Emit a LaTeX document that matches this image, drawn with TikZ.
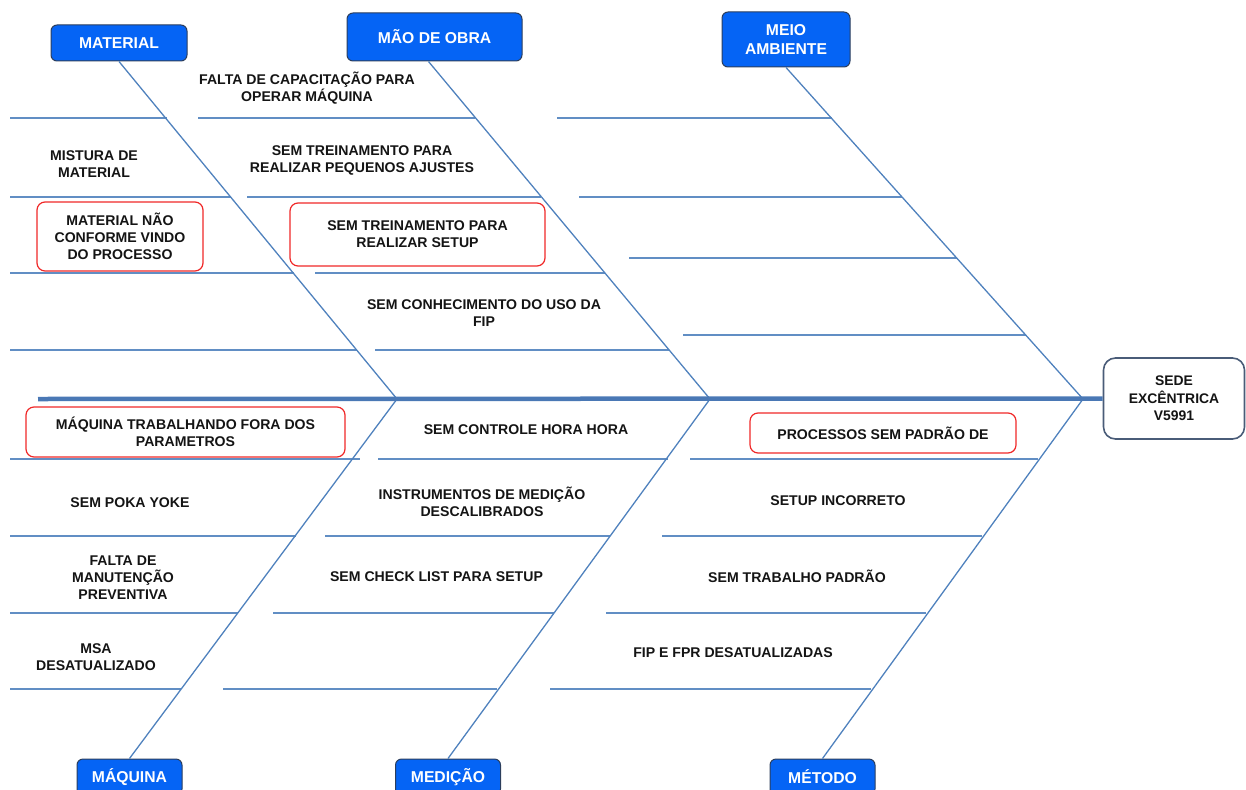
\documentclass[tikz,border=0pt]{standalone}
\usepackage{fontspec}
\setmainfont{Liberation Sans}
\usetikzlibrary{calc}
\definecolor{bone}{HTML}{4F81BD}
\definecolor{spinec}{HTML}{4A78B5}
\definecolor{titlefill}{HTML}{0564F5}
\definecolor{titleedge}{HTML}{2C3E5C}
\definecolor{headedge}{HTML}{4A5C78}
\definecolor{alert}{HTML}{F02828}
\definecolor{ink}{HTML}{141414}

\begin{document}
\begin{tikzpicture}[x=1pt,y=-1pt,
  title/.style={draw=titleedge, line width=1pt, fill=titlefill, rounded corners=6pt,
    text=white, font=\fontsize{15.7}{19}\selectfont\bfseries, align=center, inner sep=0pt},
  cause/.style={text=ink, font=\fontsize{14.1}{17}\selectfont\bfseries, align=center, inner sep=0pt},
  flagged/.style={cause, draw=alert, line width=1.2pt, rounded corners=8pt, fill=white},
  bonel/.style={draw=bone, line width=1.3pt},
  rib/.style={draw=bone!90, line width=1.3pt},
  spinel/.style={draw=spinec, line width=4.5pt},
]
\useasboundingbox (0,0) rectangle (1246,789);

% category boxes
\node[title, minimum width=136, minimum height=36] (mat) at (119,43) {MATERIAL};
\node[title, minimum width=175, minimum height=48] (mao) at (434.5,37) {MÃO DE OBRA};
\node[title, minimum width=128, minimum height=55] (meio) at (786,39.5) {MEIO\\AMBIENTE};
\node[title, minimum width=105, minimum height=36] (maq) at (129.5,777) {MÁQUINA};
\node[title, minimum width=105, minimum height=36] (med) at (448,777) {MEDIÇÃO};
\node[title, minimum width=105, minimum height=36] (met) at (822.5,777) {MÉTODO};

% effect
\node[cause, draw=headedge, line width=1.6pt, rounded corners=12pt, fill=white,
  minimum width=141, minimum height=81, font=\fontsize{13.9}{17.5}\selectfont\bfseries]
  (head) at (1174,398.5) {SEDE\\EXCÊNTRICA\\V5991};

% junctions on the spine
\coordinate (tail) at (38,399);
\coordinate (j1) at (397,399);
\coordinate (j2) at (710,399);
\coordinate (j3) at (1083,399);

% ribs
\draw[rib] (10,118) -- (167,118);
\draw[rib] (10,197) -- (231,197);
\draw[rib] (10,273) -- (294,273);
\draw[rib] (10,350) -- (357,350);

\draw[rib] (198,118) -- (475,118);
\draw[rib] (247,197) -- (541,197);
\draw[rib] (315,273) -- (605,273);
\draw[rib] (375,350) -- (669,350);

\draw[rib] (557,118) -- (832,118);
\draw[rib] (579,197) -- (902,197);
\draw[rib] (629,258) -- (957,258);
\draw[rib] (683,335) -- (1026,335);

\draw[rib] (10,459) -- (360,459);
\draw[rib] (10,536) -- (296,536);
\draw[rib] (10,613) -- (238,613);
\draw[rib] (10,689) -- (181,689);

\draw[rib] (378,459) -- (668,459);
\draw[rib] (325,536) -- (610,536);
\draw[rib] (273,613) -- (554,613);
\draw[rib] (223,689) -- (497,689);

\draw[rib] (690,459) -- (1038,459);
\draw[rib] (662,536) -- (982,536);
\draw[rib] (606,613) -- (926,613);
\draw[rib] (550,689) -- (871,689);

% bones
\draw[bonel] (mat.south) -- (j1) -- (maq.north);
\draw[bonel] ($(mao.south)+(-6,0)$) -- (j2) -- (med.north);
\draw[bonel] (meio.south) -- (j3) -- (met.north);

% spine
\draw[spinel] (tail) -- (head.west);

% causes: material
\node[cause] (c1) at (94,164) {MISTURA DE\\MATERIAL};
\node[flagged, minimum width=166, minimum height=69] (c2) at (120,236.5) {MATERIAL NÃO\\CONFORME VINDO\\DO PROCESSO};

% causes: mão de obra
\node[cause] (c3) at (307,88.5) {FALTA DE CAPACITAÇÃO PARA\\OPERAR MÁQUINA};
\node[cause] (c4) at (362,160.5) {SEM TREINAMENTO PARA\\REALIZAR PEQUENOS AJUSTES};
\node[flagged, minimum width=255, minimum height=63] (c5) at (417.5,234.5) {SEM TREINAMENTO PARA\\REALIZAR SETUP};
\node[cause] (c6) at (484,313) {SEM CONHECIMENTO DO USO DA\\FIP};

% causes: máquina
\node[flagged, minimum width=319, minimum height=50] (c7) at (185.5,432) {MÁQUINA TRABALHANDO FORA DOS\\PARAMETROS};
\node[cause] (c8) at (130,503) {SEM POKA YOKE};
\node[cause] (c9) at (123,577.5) {FALTA DE\\MANUTENÇÃO\\PREVENTIVA};
\node[cause] (c10) at (96,657.5) {MSA\\DESATUALIZADO};

% causes: medição
\node[cause] (c11) at (526,430) {SEM CONTROLE HORA HORA};
\node[cause] (c12) at (482,501.5) {INSTRUMENTOS DE MEDIÇÃO\\DESCALIBRADOS};
\node[cause] (c13) at (436.5,577) {SEM CHECK LIST PARA SETUP};

% causes: método
\node[flagged, minimum width=266, minimum height=40] (c14) at (883,433) {PROCESSOS SEM PADRÃO DE};
\node[cause] (c15) at (838,501) {SETUP INCORRETO};
\node[cause] (c16) at (797,576) {SEM TRABALHO PADRÃO};
\node[cause] (c17) at (733,653) {FIP E FPR DESATUALIZADAS};
\end{tikzpicture}
\end{document}
